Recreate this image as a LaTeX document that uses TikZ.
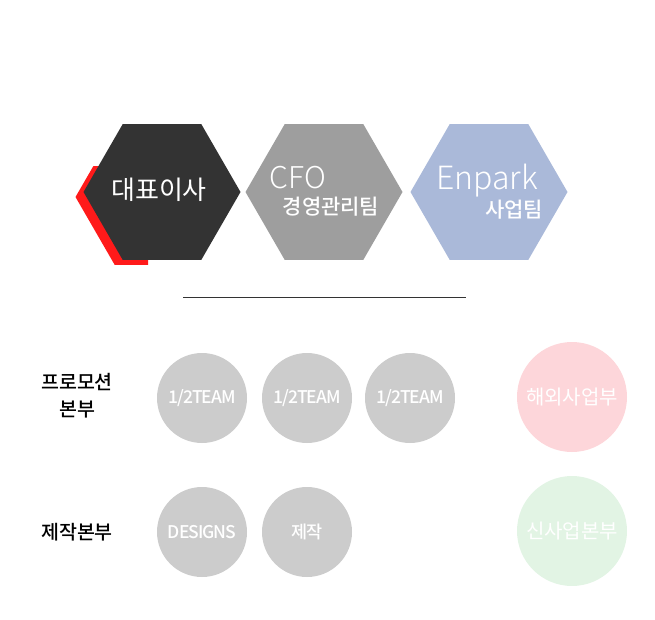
\documentclass[tikz,border=0pt]{standalone}
\usepackage{fontspec}
\usetikzlibrary{shapes.geometric,positioning}
\newfontfamily\kr{Noto Sans CJK KR}
\newfontfamily\krlight{Noto Sans CJK KR Light}
\newfontfamily\krmed{Noto Sans CJK KR Medium}
\newfontfamily\krtight{Noto Sans CJK KR Medium}[LetterSpace=-6]
\definecolor{hexdark}{HTML}{333333}
\definecolor{hexgray}{HTML}{9E9E9E}
\definecolor{hexblue}{HTML}{AAB9D9}
\definecolor{hexred}{HTML}{FF1A1A}
\definecolor{teamgray}{HTML}{CCCCCC}
\definecolor{overseas}{HTML}{FDD6DA}
\definecolor{newbiz}{HTML}{E2F4E4}
\begin{document}
\begin{tikzpicture}[x=1pt, y=-1pt,
  hexbox/.style={regular polygon, regular polygon sides=6, minimum size=157, inner sep=0},
  teambox/.style={circle, fill=teamgray, minimum size=90, inner sep=0, text=white, font=\krtight\fontsize{17.5}{18}\selectfont},
  divbox/.style={circle, minimum size=110, inner sep=0, text=white, font=\kr\fontsize{20}{20}\selectfont},
  rowlabel/.style={align=center, font=\krmed\fontsize{19.5}{27}\selectfont}]
\useasboundingbox (0,0) rectangle (655,620);
% hexagons
\begin{scope}
\clip (60,167) rectangle (148,280);
\node[hexbox, fill=hexred] (ceoshadow) at (154,197) {};
\end{scope}
\node[hexbox, fill=hexdark] (ceo) at (162,192) {};
\node[hexbox, fill=hexgray] (cfo) at (324,192) {};
\node[hexbox, fill=hexblue] (enpark) at (489,192) {};
\node[text=white, font=\kr\fontsize{26}{26}\selectfont] (ceotext) at (159,190) {대표이사};
\node[text=white, font=\krlight\fontsize{30}{30}\selectfont] (cfotext) at (298,178) {CFO};
\node[text=white, font=\krmed\fontsize{21}{21}\selectfont] (cfosub) at (331,207) {경영관리팀};
\node[text=white, font=\krlight\fontsize{32}{32}\selectfont] (enparktext) at (487,181) {Enpark};
\node[text=white, font=\krmed\fontsize{21}{21}\selectfont] (enparksub) at (514,210) {사업팀};
% divider
\coordinate (ruleL) at (183,297);
\coordinate (ruleR) at (466,297);
\draw[hexdark, line width=0.8pt] (ruleL) -- (ruleR);
% divisions
\node[rowlabel] (promo) at (77,396) {프로모션\\본부};
\node[rowlabel] (prod) at (77,532) {제작본부};
\node[teambox] (teamA) at (202,398) {1/2TEAM};
\node[teambox] (teamB) at (307,398) {1/2TEAM};
\node[teambox] (teamC) at (410,398) {1/2TEAM};
\node[teambox] (designs) at (202,532) {DESIGNS};
\node[teambox] (making) at (307,532) {제작};
\node[divbox, fill=overseas] (abroad) at (572,397) {해외사업부};
\node[divbox, fill=newbiz] (newbiz) at (572,531) {신사업본부};
\end{tikzpicture}
\end{document}
